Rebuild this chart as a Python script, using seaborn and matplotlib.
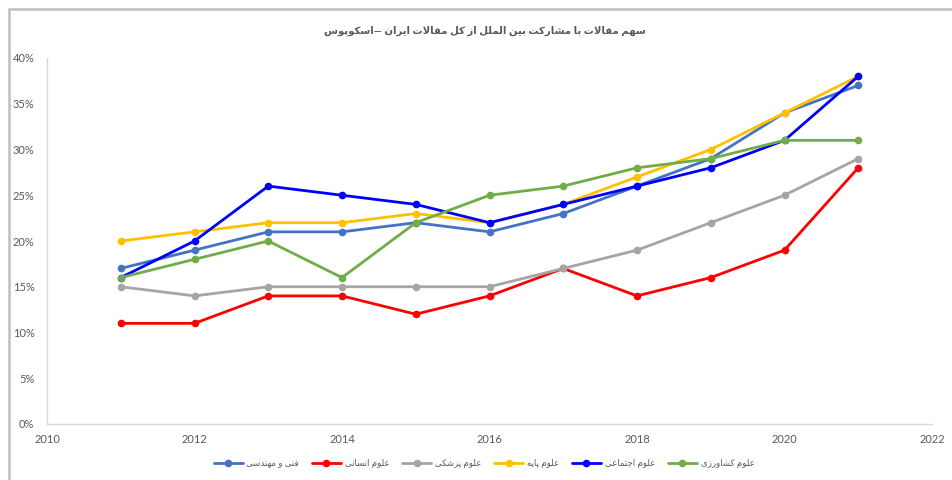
import numpy as np
import pandas as pd
import matplotlib
matplotlib.use("Agg")
import matplotlib.pyplot as plt
from matplotlib.ticker import PercentFormatter, MultipleLocator
from matplotlib import font_manager, ft2font
from matplotlib.patches import Rectangle
import seaborn as sns

# ---------------- data ----------------
years = [2011, 2012, 2013, 2014, 2015, 2016, 2017, 2018, 2019, 2020, 2021]
engineering = [17, 19, 21, 21, 22, 21, 23, 26, 29, 34, 37]
humanities = [11, 11, 14, 14, 12, 14, 17, 14, 16, 19, 28]
medical = [15, 14, 15, 15, 15, 15, 17, 19, 22, 25, 29]
basic = [20, 21, 22, 22, 23, 22, 24, 27, 30, 34, 38]
social = [16, 20, 26, 25, 24, 22, 24, 26, 28, 31, 38]
agriculture = [16, 18, 20, 16, 22, 25, 26, 28, 29, 31, 31]

series_names = ["فنی و مهندسی", "علوم انسانی", "علوم پزشکی", "علوم پایه", "علوم اجتماعی", "علوم کشاورزی"]
series_values = [engineering, humanities, medical, basic, social, agriculture]
series_colors = ["#4472C4", "#FF0000", "#A5A5A5", "#FFC000", "#0000FF", "#70AD47"]
title_text = "سهم مقالات با مشارکت بین الملل از کل مقالات ایران —اسکوپوس"

# ---------------- simple Arabic/Persian shaping ----------------
FORMS = {
    "ا": ("\uFE8D", "\uFE8E"),
    "ب": ("\uFE8F", "\uFE90", "\uFE91", "\uFE92"),
    "ت": ("\uFE95", "\uFE96", "\uFE97", "\uFE98"),
    "ج": ("\uFE9D", "\uFE9E", "\uFE9F", "\uFEA0"),
    "د": ("\uFEA9", "\uFEAA"),
    "ر": ("\uFEAD", "\uFEAE"),
    "ز": ("\uFEAF", "\uFEB0"),
    "س": ("\uFEB1", "\uFEB2", "\uFEB3", "\uFEB4"),
    "ش": ("\uFEB5", "\uFEB6", "\uFEB7", "\uFEB8"),
    "ع": ("\uFEC9", "\uFECA", "\uFECB", "\uFECC"),
    "ف": ("\uFED1", "\uFED2", "\uFED3", "\uFED4"),
    "ق": ("\uFED5", "\uFED6", "\uFED7", "\uFED8"),
    "ل": ("\uFEDD", "\uFEDE", "\uFEDF", "\uFEE0"),
    "م": ("\uFEE1", "\uFEE2", "\uFEE3", "\uFEE4"),
    "ن": ("\uFEE5", "\uFEE6", "\uFEE7", "\uFEE8"),
    "ه": ("\uFEE9", "\uFEEA", "\uFEEB", "\uFEEC"),
    "و": ("\uFEED", "\uFEEE"),
    "ی": ("\uFBFC", "\uFBFD", "\uFBFE", "\uFBFF"),
    "ک": ("\uFB8E", "\uFB8F", "\uFB90", "\uFB91"),
    "پ": ("\uFB56", "\uFB57", "\uFB58", "\uFB59"),
}
LAM_ALEF = ("\uFEFB", "\uFEFC")


def _charmap(family, weight="normal"):
    try:
        path = font_manager.findfont(font_manager.FontProperties(family=family, weight=weight))
        return set(ft2font.FT2Font(path).get_charmap().keys())
    except Exception:
        return set()


def shape(text, weight="normal"):
    cmap = _charmap("DejaVu Sans", weight)

    def ok(ch, base):
        return ch if ord(ch) in cmap else base

    out = []
    n = len(text)
    i = 0
    while i < n:
        c = text[i]
        prev = text[i - 1] if i > 0 else ""
        prev_joins = prev in FORMS and len(FORMS[prev]) == 4
        if c == "ل" and i + 1 < n and text[i + 1] == "ا":
            lig = LAM_ALEF[1] if prev_joins else LAM_ALEF[0]
            out.append(ok(lig, "لا"))
            i += 2
            continue
        if c in FORMS:
            f = FORMS[c]
            nxt = text[i + 1] if i + 1 < n else ""
            next_joins = len(f) == 4 and nxt in FORMS
            if prev_joins and next_joins:
                g = f[3]
            elif prev_joins:
                g = f[1]
            elif next_joins:
                g = f[2]
            else:
                g = f[0]
            out.append(ok(g, c))
        else:
            out.append(c)
        i += 1
    return "".join(out)[::-1]


# ---------------- figure ----------------
sns.set_theme(style="white")
plt.rcParams["font.family"] = ["Lato", "DejaVu Sans"]

label_names = [shape(s) for s in series_names]
df = pd.DataFrame({
    "year": np.tile(years, len(series_names)),
    "share": np.concatenate([np.array(v) / 100.0 for v in series_values]),
    "field": np.repeat(label_names, len(years)),
})

fig = plt.figure(figsize=(9.53, 4.80), dpi=100)
ax = fig.add_axes([47 / 953, 1 - 424 / 480, (932 - 47) / 953, (424 - 58) / 480])

sns.lineplot(
    data=df, x="year", y="share", hue="field", hue_order=label_names,
    palette=dict(zip(label_names, series_colors)), marker="o", markersize=5.5,
    markeredgewidth=0, linewidth=2, ax=ax, legend=True,
)

ax.set_xlim(2010, 2022)
ax.set_ylim(0, 0.40)
ax.xaxis.set_major_locator(MultipleLocator(2))
ax.yaxis.set_major_locator(MultipleLocator(0.05))
ax.yaxis.set_major_formatter(PercentFormatter(1.0, decimals=0))
ax.set_xlabel("")
ax.set_ylabel("")
ax.grid(False)
for side in ["top", "right"]:
    ax.spines[side].set_visible(False)
for side in ["left", "bottom"]:
    ax.spines[side].set_color("#D9D9D9")
    ax.spines[side].set_linewidth(1.0)
ax.tick_params(axis="both", length=0, labelsize=8, labelcolor="#595959")
ax.tick_params(axis="y", pad=9)
ax.tick_params(axis="x", pad=7)

handles, labels = ax.get_legend_handles_labels()
ax.legend(handles, labels, loc="center", bbox_to_anchor=(0.4937, (424 - 464) / 366),
          ncol=6, frameon=False, fontsize=6.2, handlelength=3.4, columnspacing=1.5,
          handletextpad=0.4, labelcolor="#595959")

fig.text(485 / 953, 1 - 31 / 480, shape(title_text, "bold"), ha="center", va="center",
         fontsize=7.3, fontweight="bold", color="#595959")

# outer chart frame
fig.add_artist(Rectangle((9.5 / 953, -0.1), 1.2, 1 - 8.5 / 480 + 0.1, transform=fig.transFigure,
                         fill=False, edgecolor="#BFBFBF", linewidth=1.8, clip_on=False))

fig.savefig("out.png", dpi=100, facecolor="white")
